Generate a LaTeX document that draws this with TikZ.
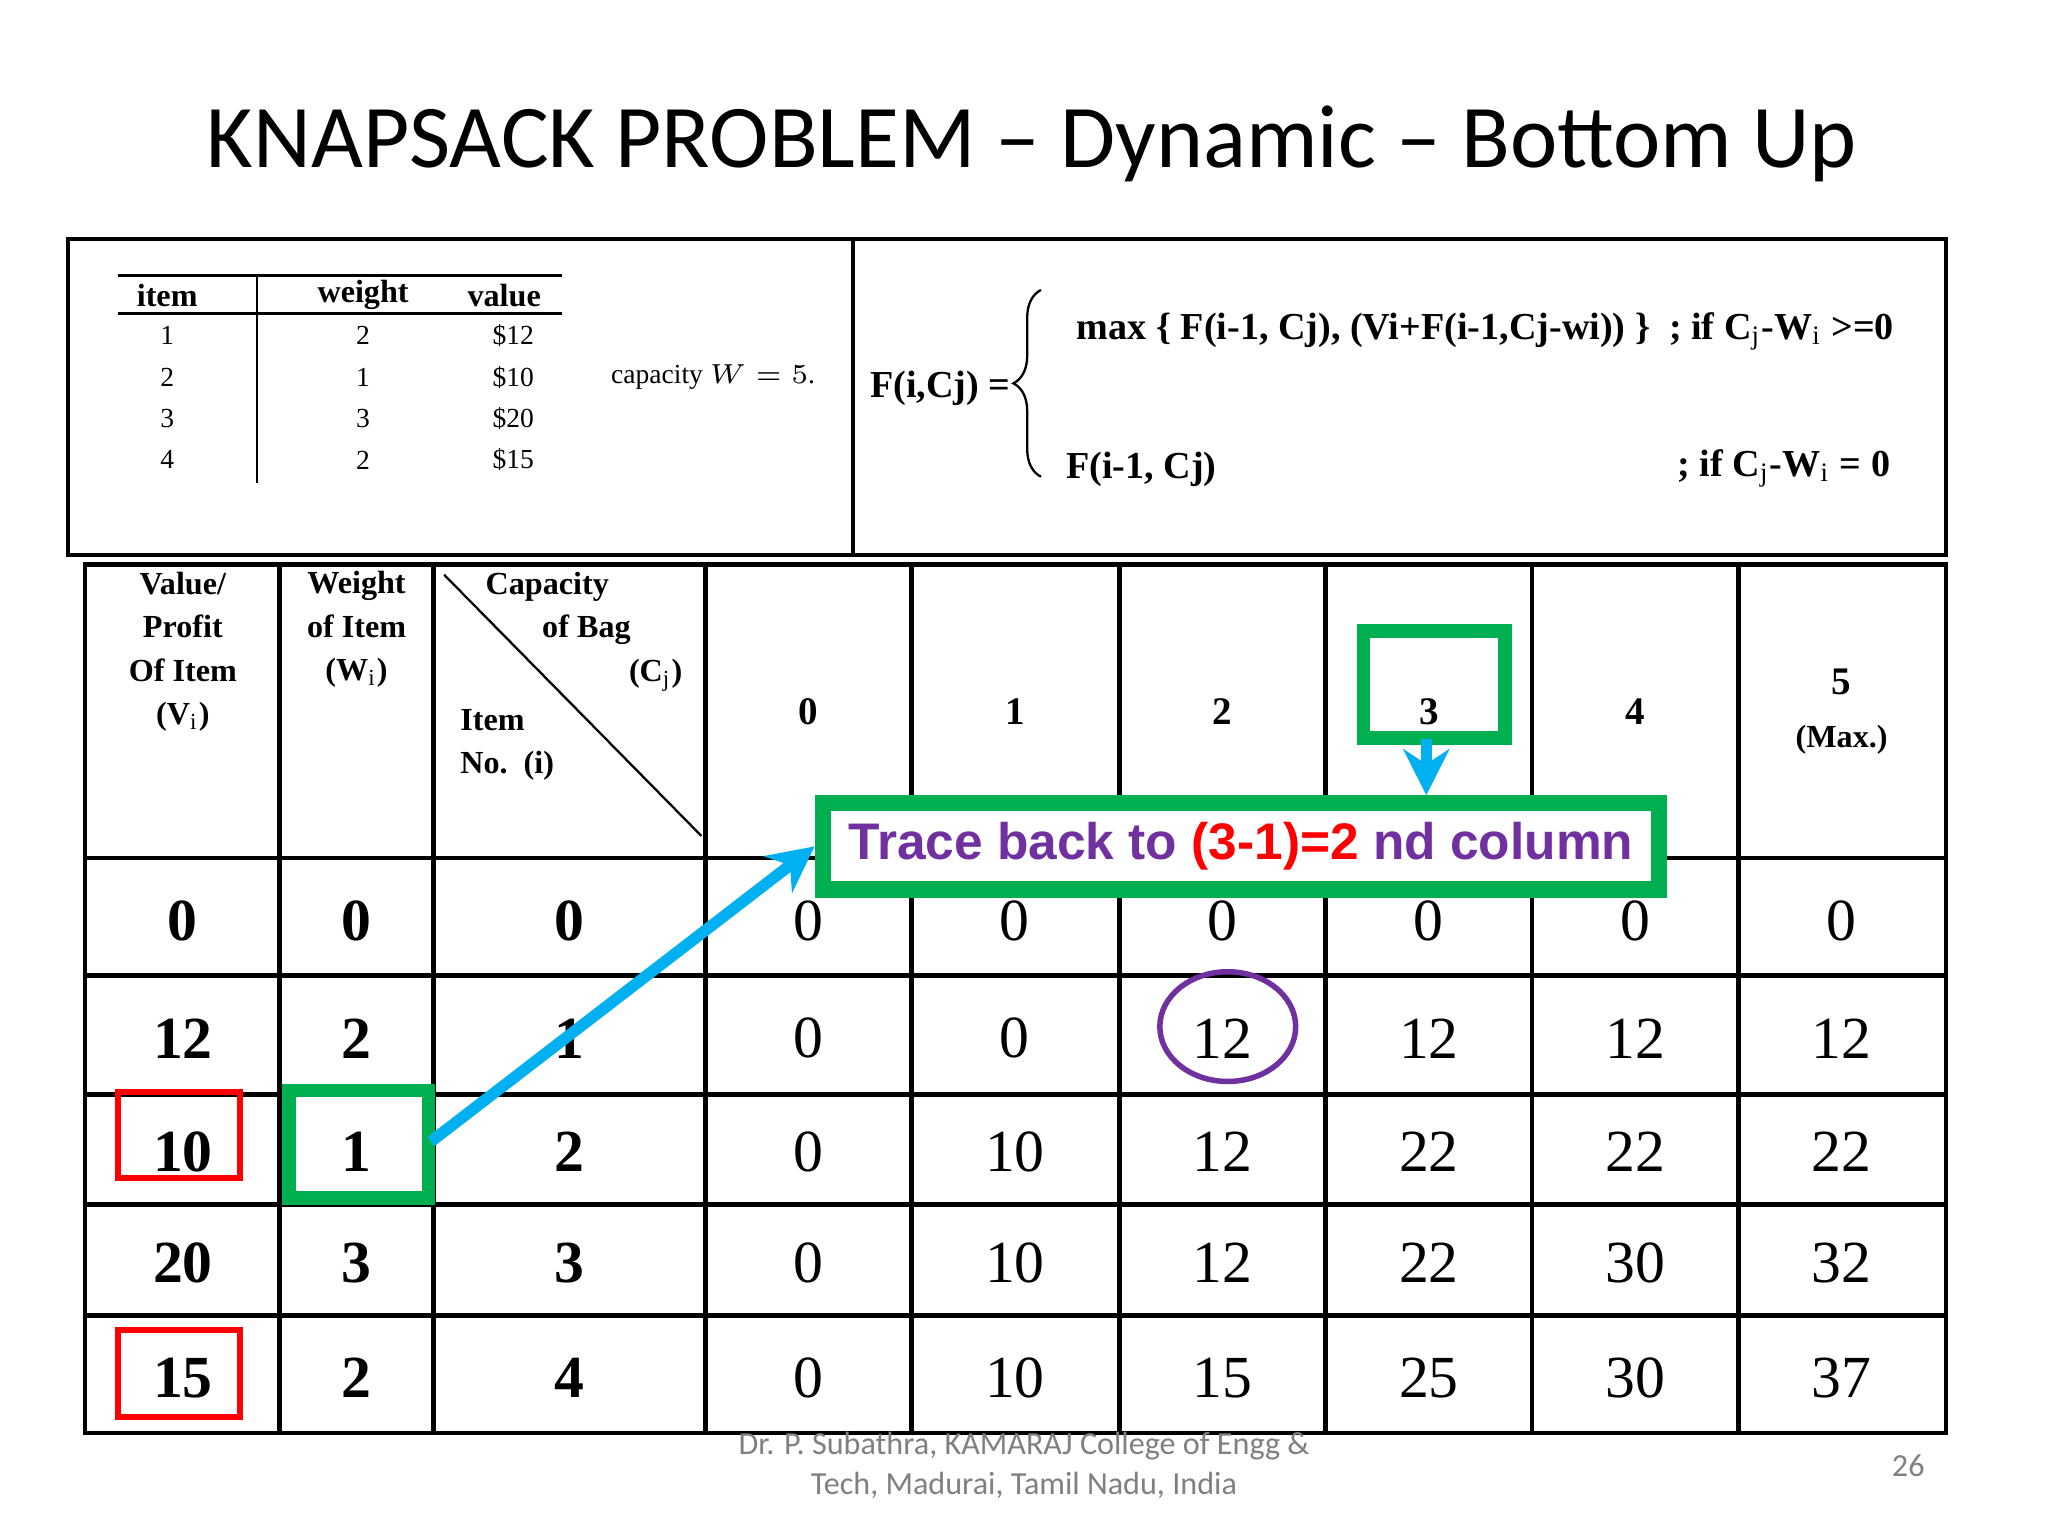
\documentclass[tikz,border=0pt]{standalone}
\usepackage{fontspec}
\setmainfont{Liberation Serif}
\newfontfamily\calib{Carlito}
\newfontfamily\arial{Liberation Sans}
\usetikzlibrary{arrows.meta,decorations.pathreplacing}
\definecolor{gbox}{HTML}{00B050}
\definecolor{cyanarr}{HTML}{00B0F0}
\definecolor{purp}{HTML}{7030A0}
\begin{document}
\begin{tikzpicture}[x=0.01cm,y=-0.01cm,
  num/.style={font=\fontsize{13}{15}\selectfont},
  bnum/.style={font=\fontsize{13}{15}\selectfont\bfseries},
  hdr/.style={font=\fontsize{7}{9.5}\selectfont\bfseries,align=center},
  small/.style={font=\fontsize{6}{7}\selectfont},
  frm/.style={font=\fontsize{8.3}{10}\selectfont\bfseries},
  grid/.style={line width=1pt},
  redbox/.style={draw=red,line width=1.3pt},
  greenbox/.style={draw=gbox,line width=3pt},
  arr/.style={draw=cyanarr,line width=2.5pt,-{Stealth[length=10pt,width=10pt]}}]
\useasboundingbox (0,0) rectangle (1568,1176);
\node[font=\calib\fontsize{19.5}{24}\selectfont] (title) at (790,110) {KNAPSACK PROBLEM – Dynamic – Bottom Up};
% top box
\draw[grid] (52,183) rectangle (1490,425);
\draw[grid] (653,183) -- (653,425);
% small table
\draw[line width=0.8pt] (90,211) -- (430,211);
\draw[line width=0.5pt] (90,240) -- (430,240);
\draw[line width=0.5pt] (197,211) -- (197,370);
\node[small,font=\fontsize{7}{8}\selectfont\bfseries] (ti) at (128,226) {item};
\node[small,font=\fontsize{7}{8}\selectfont\bfseries] (tw) at (278,226) {weight};
\node[small,font=\fontsize{7}{8}\selectfont\bfseries] (tv) at (386,226) {value};
\foreach \i/\w/\v [count=\k] in {1/2/12,2/1/10,3/3/20,4/2/15}{
  \node[small] (si\k) at (128,{257+31.7*(\k-1)}) {\i};
  \node[small] (sw\k) at (278,{257+31.7*(\k-1)}) {\w};
  \node[small] (sv\k) at (393,{257+31.7*(\k-1)}) {\$\v};
}
\node[small] (cap) at (546,289) {capacity $W=5$.};
% formula
\node[frm] (fl) at (720,297) {F(i,Cj) =};
\draw[line width=0.5pt,decorate,decoration={brace,amplitude=6pt}] (797,365) -- (797,222);
\node[frm,anchor=west] (f1) at (812,254) {max \{ F(i-1, Cj), (Vi+F(i-1,Cj-wi)) \} \ ; if C$_\mathrm{j}$-W$_\mathrm{i}$ >=0};
\node[frm,anchor=west] (f2) at (804,359) {F(i-1, Cj)};
\node[frm,anchor=west] (f3) at (1272,359) {; if C$_\mathrm{j}$-W$_\mathrm{i}$ = 0};
% main grid
\draw[grid] (65,432) rectangle (1490,1097);
\foreach \x in {214,332,540,698,857,1015,1173,1331} \draw[grid] (\x,432) -- (\x,1097);
\foreach \y in {657,747,838,922,1007} \draw[grid] (65,\y) -- (1490,\y);
\draw[line width=0.5pt] (340,440) -- (537,640);
% headers
\node[hdr] (h1) at (140,499) {Value/\\Profit\\Of Item\\(V$_\mathrm{i}$)};
\node[hdr] (h2) at (273,482) {Weight\\of Item\\(W$_\mathrm{i}$)};
\node[hdr] (h3a) at (419,449) {Capacity};
\node[hdr] (h3b) at (449,482) {of Bag};
\node[hdr] (h3c) at (502,517) {(C$_\mathrm{j}$)};
\node[hdr,anchor=west] (h3d) at (340,551) {Item};
\node[hdr,anchor=west] (h3e) at (340,586) {No.\ \ (i)};
\foreach \c/\x in {0/619,1/777,2/936,3/1094,4/1252}\node[hdr,font=\fontsize{8.5}{10}\selectfont\bfseries] (c\c) at (\x,545) {\c};
\node[hdr] (c5) at (1410,545) {\fontsize{8.5}{10}\selectfont 5\\[2pt](Max.)};
% data rows
\foreach \y/\v/\w/\i/\a/\b/\c/\d/\e/\f [count=\r] in {
 705/0/0/0/0/0/0/0/0/0,
 795/12/2/1/0/0/12/12/12/12,
 882/10/1/2/0/10/12/22/22/22,
 967/20/3/3/0/10/12/22/30/32,
 1055/15/2/4/0/10/15/25/30/37}{
  \node[bnum] (v\r) at (140,\y) {\v};
  \node[bnum] (w\r) at (273,\y) {\w};
  \node[bnum] (i\r) at (436,\y) {\i};
  \node[num] (a\r) at (619,\y) {\a};
  \node[num] (b\r) at (777,\y) {\b};
  \node[num] (cc\r) at (936,\y) {\c};
  \node[num] (d\r) at (1094,\y) {\d};
  \node[num] (e\r) at (1252,\y) {\e};
  \node[num] (f\r) at (1410,\y) {\f};
}
% annotations
\draw[redbox] (90,836) rectangle (184,902);
\draw[redbox] (90,1018) rectangle (184,1085);
\draw[greenbox] (221,835) rectangle (328,917);
\coordinate (gwe) at (330,874);
\draw[greenbox] (1044,483) rectangle (1152,565);
\coordinate (g3) at (1092,566);
\node[draw=gbox,fill=white,line width=3.5pt,minimum width=6.4cm,minimum height=0.66cm,inner sep=0,
  font=\arial\bfseries\fontsize{11.2}{13}\selectfont] (trace) at (950,648)
  {\textcolor{purp}{Trace back to\ }\textcolor{red}{(3-1)=2}\textcolor{purp}{\ nd column}};
\draw[arr] (g3) -- (trace.north -| g3);
\draw[arr] (gwe) -- (trace.west);
\draw[purp,line width=1.2pt] (940,786) ellipse (52 and 42);
% footer
\node[font=\calib\fontsize{7}{8.7}\selectfont,text=gray,align=center] (foot) at (784,1122) {Dr. P. Subathra, KAMARAJ College of Engg \&\\Tech, Madurai, Tamil Nadu, India};
\node[font=\calib\fontsize{7}{8}\selectfont,text=gray] (pg) at (1461,1122) {26};
\end{tikzpicture}
\end{document}
